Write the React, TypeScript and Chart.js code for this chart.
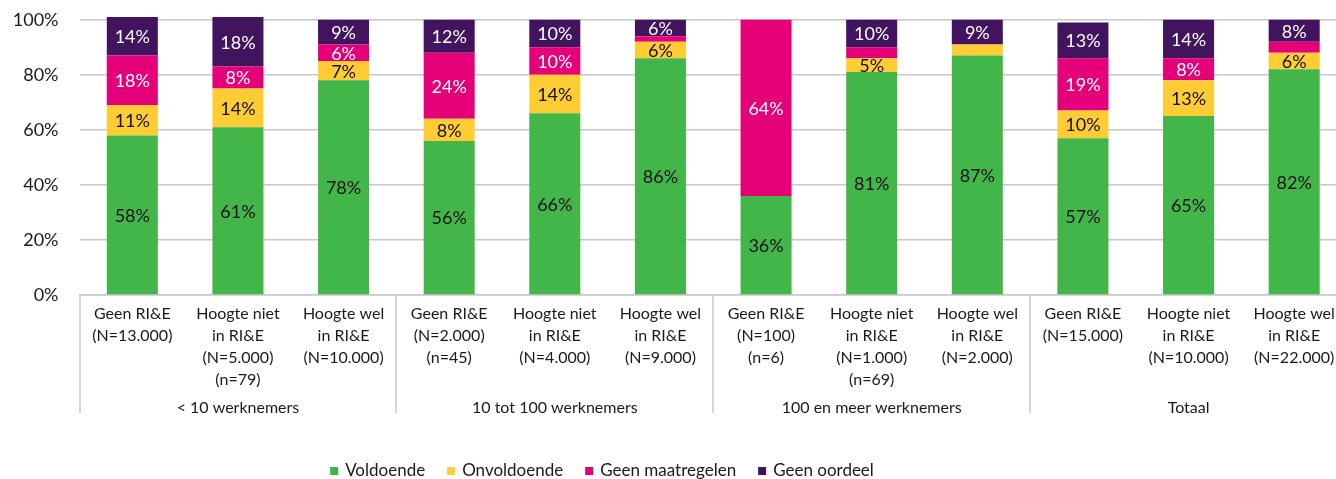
import React, { useEffect, useRef } from "react";
import { Chart, registerables } from "chart.js";

Chart.register(...registerables);

const categories: string[][] = [
  ["Geen RI&E", "(N=13.000)"],
  ["Hoogte niet", "in RI&E", "(N=5.000)", "(n=79)"],
  ["Hoogte wel", "in RI&E", "(N=10.000)"],
  ["Geen RI&E", "(N=2.000)", "(n=45)"],
  ["Hoogte niet", "in RI&E", "(N=4.000)"],
  ["Hoogte wel", "in RI&E", "(N=9.000)"],
  ["Geen RI&E", "(N=100)", "(n=6)"],
  ["Hoogte niet", "in RI&E", "(N=1.000)", "(n=69)"],
  ["Hoogte wel", "in RI&E", "(N=2.000)"],
  ["Geen RI&E", "(N=15.000)"],
  ["Hoogte niet", "in RI&E", "(N=10.000)"],
  ["Hoogte wel", "in RI&E", "(N=22.000)"],
];

const groups: string[] = [
  "< 10 werknemers",
  "10 tot 100 werknemers",
  "100 en meer werknemers",
  "Totaal",
];
const groupSize = 3;

const voldoende = [58, 61, 78, 56, 66, 86, 36, 81, 87, 57, 65, 82];
const onvoldoende = [11, 14, 7, 8, 14, 6, 0, 5, 4, 10, 13, 6];
const geenMaatregelen = [18, 8, 6, 24, 10, 2, 64, 4, 0, 19, 8, 4];
const geenOordeel = [14, 18, 9, 12, 10, 6, 0, 10, 9, 13, 14, 8];

const seriesNames = ["Voldoende", "Onvoldoende", "Geen maatregelen", "Geen oordeel"];
const seriesColors = ["#43b64a", "#ffcc33", "#e5007a", "#42145f"];
const labelColors = ["#111111", "#111111", "#ffffff", "#ffffff"];
const yTicks = [0, 20, 40, 60, 80, 100];

const FONT = "Lato, 'Noto Sans', sans-serif";
const CW = 1347;
const CH = 491;

export default function App() {
  const ref = useRef<HTMLCanvasElement | null>(null);

  useEffect(() => {
    document.body.style.margin = "0";
    const canvas = ref.current;
    if (!canvas) return;

    const overlay = {
      id: "overlay",
      afterDatasetsDraw(chart: any) {
        const ctx = chart.ctx;
        ctx.save();
        ctx.textAlign = "center";
        ctx.textBaseline = "middle";
        ctx.font = `18px ${FONT}`;
        chart.data.datasets.forEach((ds: any, di: number) => {
          const meta = chart.getDatasetMeta(di);
          meta.data.forEach((bar: any, i: number) => {
            const v = ds.data[i];
            if (v < 5) return;
            ctx.fillStyle = labelColors[di];
            ctx.fillText(v + "%", bar.x, (bar.y + bar.base) / 2 + 1);
          });
        });
        ctx.restore();
      },
      afterDraw(chart: any) {
        const ctx = chart.ctx;
        const xs = chart.scales.x;
        const area = chart.chartArea;
        const half = (xs.getPixelForValue(1) - xs.getPixelForValue(0)) / 2;
        ctx.save();
        ctx.strokeStyle = "#c8c8c8";
        ctx.lineWidth = 1.5;
        for (let g = 0; g <= groups.length; g++) {
          const idx = g * groupSize;
          const x = Math.round(xs.getPixelForValue(Math.min(idx, categories.length - 1)) + (idx >= categories.length ? half : -half));
          ctx.beginPath();
          ctx.moveTo(x, area.bottom);
          ctx.lineTo(x, area.bottom + 118);
          ctx.stroke();
        }
        ctx.fillStyle = "#1a1a1a";
        ctx.font = `16px ${FONT}`;
        ctx.textAlign = "center";
        ctx.textBaseline = "middle";
        groups.forEach((g, gi) => {
          const a = xs.getPixelForValue(gi * groupSize) - half;
          const b = xs.getPixelForValue(gi * groupSize + groupSize - 1) + half;
          ctx.fillText(g, (a + b) / 2, area.bottom + 113);
        });
        // legend
        ctx.font = `17px ${FONT}`;
        ctx.textAlign = "left";
        const box = 8;
        const gapBox = 7;
        const gapItem = 22;
        const widths = seriesNames.map((n) => box + gapBox + ctx.measureText(n).width);
        const total = widths.reduce((s, w) => s + w, 0) + gapItem * (seriesNames.length - 1);
        let x = 602 - total / 2;
        const y = area.bottom + 176;
        seriesNames.forEach((n, i) => {
          ctx.fillStyle = seriesColors[i];
          ctx.fillRect(x, y - box / 2, box, box);
          ctx.fillStyle = "#1a1a1a";
          ctx.fillText(n, x + box + gapBox, y);
          x += widths[i] + gapItem;
        });
        ctx.restore();
      },
    };

    const seriesData = [voldoende, onvoldoende, geenMaatregelen, geenOordeel];
    const chart = new Chart(canvas, {
      type: "bar",
      data: {
        labels: categories,
        datasets: seriesData.map((d, i) => ({
          label: seriesNames[i],
          data: d,
          backgroundColor: seriesColors[i],
          borderWidth: 0,
          categoryPercentage: 1,
          barPercentage: 0.483,
          clip: false as any,
        })),
      },
      options: {
        responsive: false,
        animation: false,
        maintainAspectRatio: false,
        layout: { padding: { top: 8, right: 0, left: 0, bottom: 0 } },
        plugins: { legend: { display: false }, tooltip: { enabled: false } },
        scales: {
          x: {
            stacked: true,
            grid: { display: false, drawTicks: false },
            border: { display: true, color: "#c8c8c8", width: 1.5 },
            ticks: {
              color: "#1a1a1a",
              font: { family: FONT, size: 16, lineHeight: 1.375 },
              padding: 8,
              maxRotation: 0,
              autoSkip: false,
            },
            afterFit: (s: any) => {
              s.height = 184;
            },
          },
          y: {
            stacked: true,
            min: 0,
            max: 100,
            afterBuildTicks: (s: any) => {
              s.ticks = yTicks.map((v) => ({ value: v }));
            },
            grid: { color: "#c8c8c8", lineWidth: 1.5, drawTicks: false },
            border: { display: false },
            ticks: {
              color: "#1a1a1a",
              font: { family: FONT, size: 18 },
              padding: 21,
              callback: (v: any) => v + "%",
            },
            afterFit: (s: any) => {
              s.width = 79.5;
            },
          },
        },
      },
      plugins: [overlay],
    });
    return () => chart.destroy();
  }, []);

  return (
    <div style={{ width: 1336, height: 479, overflow: "hidden", position: "relative" }}>
      <canvas
        ref={ref}
        width={CW}
        height={CH}
        style={{ display: "block", position: "absolute", left: 0, top: -12 }}
      />
    </div>
  );
}
